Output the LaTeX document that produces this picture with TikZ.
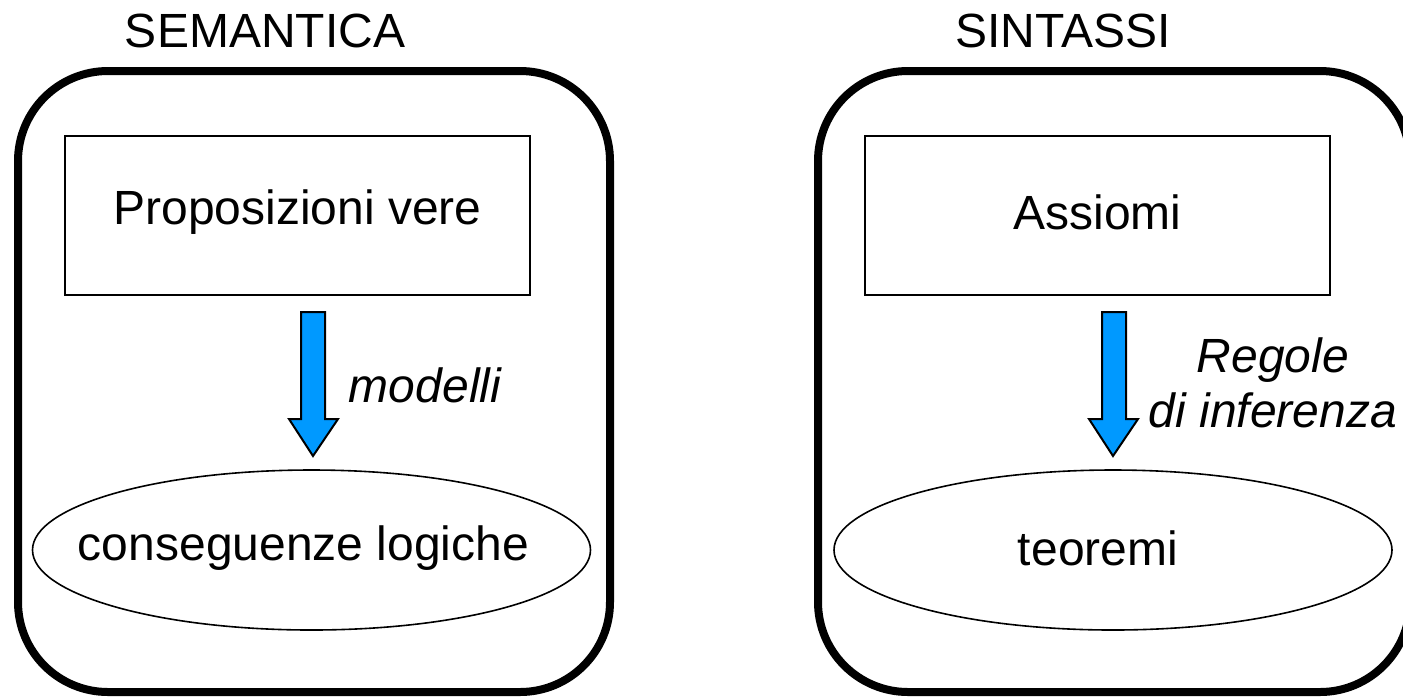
\documentclass[tikz,border=0pt]{standalone}
\usepackage{fontspec}
\setmainfont{Liberation Sans}
\usetikzlibrary{shapes.geometric}
\definecolor{arrowblue}{RGB}{0,153,255}
\begin{document}
\begin{tikzpicture}[x=0.5pt,y=-0.5pt,
  every node/.style={font=\fontsize{24}{27.6}\selectfont, inner sep=0pt},
  outerbox/.style={draw, line width=4pt, rounded corners=45pt},
  innerbox/.style={draw, line width=1pt},
  oval/.style={draw, ellipse, line width=0.8pt, minimum width=279pt, minimum height=80pt},
  blockarrow/.style={draw, fill=arrowblue, line width=1pt, line join=miter},
  label/.style={font=\itshape\fontsize{24}{27.6}\selectfont, align=center}]
\useasboundingbox (0,0) rectangle (1403,698);
% titles
\node (tsem) at (265,31) {SEMANTICA};
\node (tsin) at (1063,31) {SINTASSI};
% outer boxes
\draw[outerbox] (18,71) rectangle (610,692);
\draw[outerbox] (818,71) rectangle (1410,692);
% inner boxes
\node[innerbox, minimum width=232.5pt, minimum height=79.5pt] (prop) at (297.5,215.5) {};
\node (proptxt) at (297.5,212) {Proposizioni vere};
\node[innerbox, minimum width=232.5pt, minimum height=79.5pt] (ass) at (1097.5,215.5) {};
\node (asstxt) at (1097.5,212) {Assiomi};
% ellipses
\node[oval] (cons) at (311.5,550) {};
\node (constxt) at (303.5,548) {conseguenze logiche};
\node[oval] (teo) at (1113,550) {};
\node (teotxt) at (1098,548) {teoremi};
% block arrows
\draw[blockarrow] (301,312) -- (325,312) -- (325,419) -- (338,419) -- (313,456) -- (289,419) -- (301,419) -- cycle;
\draw[blockarrow] (1102,312) -- (1126,312) -- (1126,419) -- (1138,419) -- (1113,456) -- (1089,419) -- (1102,419) -- cycle;
% labels
\node[label] (mod) at (425,385) {modelli};
\node[label] (reg) at (1273,383) {Regole\\di inferenza};
\end{tikzpicture}
\end{document}
